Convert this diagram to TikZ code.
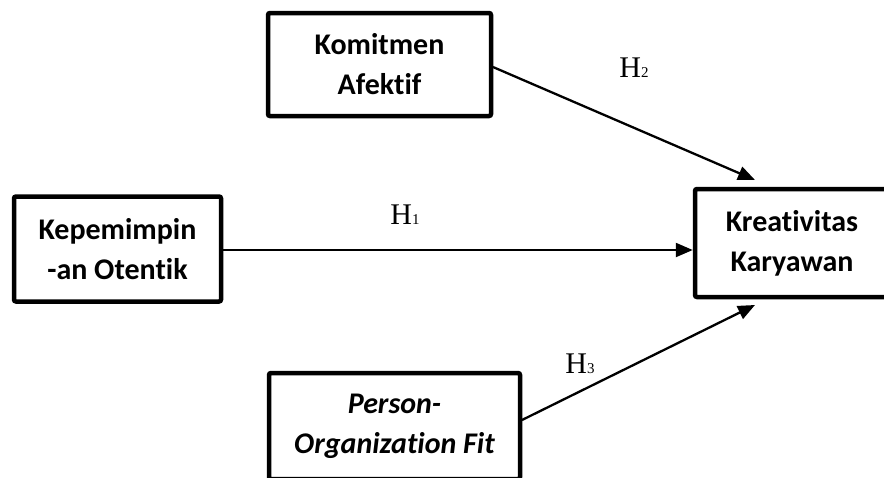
\documentclass[tikz,border=0pt]{standalone}
\usepackage{fontspec}
\setmainfont[Ligatures=NoCommon]{Carlito}
\newfontfamily\hfont{Liberation Serif}
\usetikzlibrary{arrows.meta}
\begin{document}
\begin{tikzpicture}[x=1pt,y=-1pt,
  boxst/.style={draw=black,line width=4.5pt,rounded corners=2pt,fill=white,
    align=center,inner sep=0pt,font=\fontsize{30}{40}\selectfont\bfseries},
  arr/.style={line width=2.3pt,-{Triangle[length=17pt,width=14pt]}},
  hlab/.style={font=\hfont\fontsize{30}{30}\selectfont}]
\useasboundingbox (0,0) rectangle (884,477);
\clip (0,0) rectangle (884,477);
\node[boxst,minimum width=223pt,minimum height=103pt] (kom) at (379.5,64.5) {Komitmen\\Afektif};
\node[boxst,minimum width=207pt,minimum height=105pt] (kep) at (117.5,249) {Kepemimpin\\-an Otentik};
\node[boxst,minimum width=194pt,minimum height=108pt] (kre) at (792,243) {Kreativitas\\Karyawan};
\node[boxst,minimum width=251pt,minimum height=106pt,font=\fontsize{30}{40}\selectfont\bfseries\itshape] (poe) at (394.5,426) {Person-\\Organization Fit};
\coordinate (s1) at ([yshift=-1pt]kep.east);
\coordinate (e1) at (kre.west |- s1);
\coordinate (t2) at (755,180);
\coordinate (t3) at (755,305);
\coordinate (s2) at (493,67);
\coordinate (s3) at (522,420);
\draw[arr] (s1) -- (e1);
\draw[arr] (s2) -- (t2);
\draw[arr] (s3) -- (t3);
\node[hlab] (h2) at (634,68) {H{\fontsize{15}{15}\selectfont 2}};
\node[hlab] (h1) at (405,215) {H{\fontsize{15}{15}\selectfont 1}};
\node[hlab] (h3) at (580,364) {H{\fontsize{15}{15}\selectfont 3}};
\end{tikzpicture}
\end{document}
